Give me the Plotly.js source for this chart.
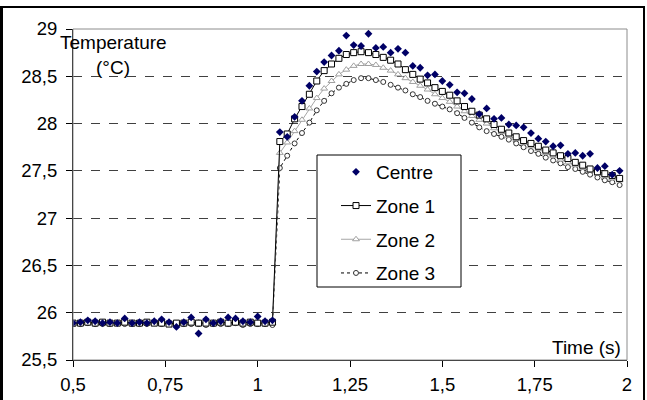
<!DOCTYPE html>
<html>
<head>
<meta charset="utf-8">
<script src="https://cdn.plot.ly/plotly-3.0.1.min.js"></script>
<style>
html,body{margin:0;padding:0;background:#fff;overflow:hidden;}
#chart{position:absolute;left:0;top:0;width:647px;height:400px;}
#frame{position:absolute;left:0;top:6px;width:645px;height:400px;box-sizing:border-box;border:2px solid #000;border-left-width:3px;pointer-events:none;}
</style>
</head>
<body>
<div id="chart"></div>
<div id="frame"></div>
<script>
// Time (s)
var time = [0.50,0.52,0.54,0.56,0.58,0.60,0.62,0.64,0.66,0.68,0.70,0.72,0.74,0.76,0.78,0.80,0.82,0.84,0.86,0.88,0.90,0.92,0.94,0.96,0.98,1.00,1.02,1.04,
  1.06,1.08,1.10,1.12,1.14,1.16,1.18,1.20,1.22,1.24,1.26,1.28,1.30,1.32,1.34,1.36,1.38,1.40,1.42,1.44,1.46,1.48,1.50,1.52,1.54,1.56,1.58,1.60,
  1.62,1.64,1.66,1.68,1.70,1.72,1.74,1.76,1.78,1.80,1.82,1.84,1.86,1.88,1.90,1.92,1.94,1.96,1.98];

var centre = [25.89,25.90,25.92,25.91,25.89,25.90,25.89,25.94,25.89,25.90,25.89,25.91,25.93,25.90,25.85,25.90,25.95,25.78,25.93,25.89,25.91,25.95,25.94,25.91,25.90,25.96,25.91,25.92,
  27.91,27.86,28.07,28.24,28.40,28.55,28.65,28.72,28.77,28.93,28.83,28.82,28.95,28.80,28.81,28.75,28.79,28.75,28.61,28.59,28.51,28.52,28.45,28.41,28.33,28.32,28.26,28.10,
  28.16,28.05,28.06,27.99,27.98,27.96,27.90,27.84,27.81,27.76,27.77,27.68,27.69,27.66,27.68,27.53,27.55,27.46,27.50];

var zone1 = [25.89,25.89,25.90,25.89,25.90,25.89,25.89,25.90,25.89,25.89,25.90,25.89,25.89,25.88,25.89,25.89,25.90,25.89,25.89,25.89,25.90,25.89,25.90,25.89,25.90,25.89,25.89,25.90,
  27.81,27.89,28.05,28.18,28.31,28.45,28.56,28.63,28.69,28.73,28.75,28.76,28.75,28.73,28.70,28.67,28.63,28.57,28.52,28.47,28.43,28.38,28.34,28.30,28.24,28.18,28.13,28.09,
  28.05,27.99,27.94,27.90,27.86,27.82,27.79,27.76,27.72,27.69,27.66,27.63,27.59,27.56,27.52,27.49,27.47,27.45,27.42];

var zone2 = [25.89,25.90,25.89,25.89,25.89,25.90,25.89,25.89,25.89,25.90,25.89,25.89,25.90,25.89,25.89,25.89,25.89,25.90,25.89,25.89,25.89,25.90,25.89,25.89,25.89,25.90,25.89,25.89,
  27.69,27.80,27.92,28.04,28.16,28.27,28.37,28.45,28.52,28.57,28.61,28.63,28.63,28.62,28.59,28.56,28.52,28.48,28.44,28.40,28.36,28.31,28.27,28.23,28.18,28.13,28.08,28.04,
  28.00,27.95,27.91,27.87,27.84,27.80,27.76,27.73,27.69,27.66,27.62,27.59,27.56,27.53,27.50,27.47,27.45,27.42,27.40];

var zone3 = [25.88,25.88,25.89,25.88,25.88,25.88,25.89,25.88,25.88,25.88,25.88,25.89,25.88,25.88,25.88,25.88,25.88,25.88,25.87,25.88,25.88,25.88,25.89,25.87,25.88,25.88,25.88,25.87,
  27.53,27.66,27.79,27.90,28.01,28.14,28.24,28.32,28.38,28.42,28.46,28.48,28.48,28.46,28.44,28.41,28.38,28.35,28.31,28.28,28.24,28.21,28.18,28.15,28.11,28.06,28.01,27.96,
  27.92,27.89,27.86,27.83,27.79,27.75,27.71,27.68,27.64,27.61,27.58,27.54,27.52,27.49,27.46,27.43,27.40,27.38,27.35];

var seriesNames = ['Centre','Zone 1','Zone 2','Zone 3'];
var xTickVals = [0.5,0.75,1,1.25,1.5,1.75,2];
var yTickVals = [25.5,26,26.5,27,27.5,28,28.5,29];

var FONT = 'Arial, "Liberation Sans", sans-serif';

var traces = [
  {x: time, y: zone3, name: seriesNames[3], type:'scatter', mode:'lines+markers', legendgroup:'d', legendrank:4,
   line:{color:'#000', width:1, dash:'dot'},
   marker:{symbol:'circle', size:5, color:'#fff', line:{color:'#333', width:1}}},
  {x: time, y: zone2, name: seriesNames[2], type:'scatter', mode:'lines+markers', legendgroup:'c', legendrank:3,
   line:{color:'#a6a6a6', width:1},
   marker:{symbol:'triangle-up', size:6, color:'#fff', line:{color:'#a0a0a0', width:1}}},
  {x: time, y: zone1, name: seriesNames[1], type:'scatter', mode:'lines+markers', legendgroup:'b', legendrank:2,
   line:{color:'#000', width:1},
   marker:{symbol:'square', size:6, color:'#fff', line:{color:'#000', width:1}}},
  {x: time, y: centre, name: seriesNames[0], type:'scatter', mode:'markers', legendgroup:'a', legendrank:1,
   marker:{symbol:'diamond', size:6, color:'#000066', line:{width:0}}}
];

function px2x(p){ return (p-73)/554; }
function px2y(p){ return (360-p)/331; }

var layout = {
  width:647, height:400,
  margin:{l:73, r:20, t:29, b:40, pad:0},
  paper_bgcolor:'#fff', plot_bgcolor:'#fff',
  separators:', ',
  font:{family:FONT, size:19, color:'#000'},
  showlegend:true,
  legend:{x:px2x(336), y:px2y(153), xanchor:'left', yanchor:'top',
    bgcolor:'rgba(0,0,0,0)', borderwidth:0, tracegroupgap:6,
    font:{family:FONT, size:19, color:'#000'}, traceorder:'grouped'},
  xaxis:{range:[0.5,2], tickvals:xTickVals, ticks:'outside', ticklen:6, tickcolor:'#000',
    showline:true, linecolor:'#000', linewidth:1, showgrid:false, zeroline:false, ticklabelstandoff:2,
    tickfont:{family:FONT, size:18.5, color:'#000'}},
  yaxis:{range:[25.5,29], tickvals:yTickVals, ticks:'outside', ticklen:6, tickcolor:'#000',
    showline:true, linecolor:'#000', linewidth:1, showgrid:true, gridcolor:'#404040', griddash:'dash', gridwidth:1,
    zeroline:false, ticklabelstandoff:5, tickfont:{family:FONT, size:18.5, color:'#000'}},
  shapes:[
    {type:'rect', xref:'paper', yref:'paper', x0:0, x1:1, y0:0, y1:1, line:{color:'#8c8c8c', width:1}, fillcolor:'rgba(0,0,0,0)', layer:'above'},
    {type:'rect', xref:'paper', yref:'paper', x0:px2x(317), x1:px2x(461), y0:px2y(287), y1:px2y(155), line:{color:'#000', width:1}, fillcolor:'#fff', layer:'above'}
  ],
  annotations:[
    {text:'Temperature', xref:'paper', yref:'paper', x:px2x(113), y:px2y(43), xanchor:'center', yanchor:'middle', showarrow:false, font:{family:FONT, size:19, color:'#000'}},
    {text:'(°C)', xref:'paper', yref:'paper', x:px2x(113), y:px2y(67), xanchor:'center', yanchor:'middle', showarrow:false, font:{family:FONT, size:19, color:'#000'}},
    {text:'Time (s)', xref:'paper', yref:'paper', x:px2x(623), y:0, xanchor:'right', yanchor:'bottom', showarrow:false, font:{family:FONT, size:19, color:'#000'}}
  ]
};

Plotly.newPlot('chart', traces, layout, {staticPlot:true, displayModeBar:false});
</script>
</body>
</html>
